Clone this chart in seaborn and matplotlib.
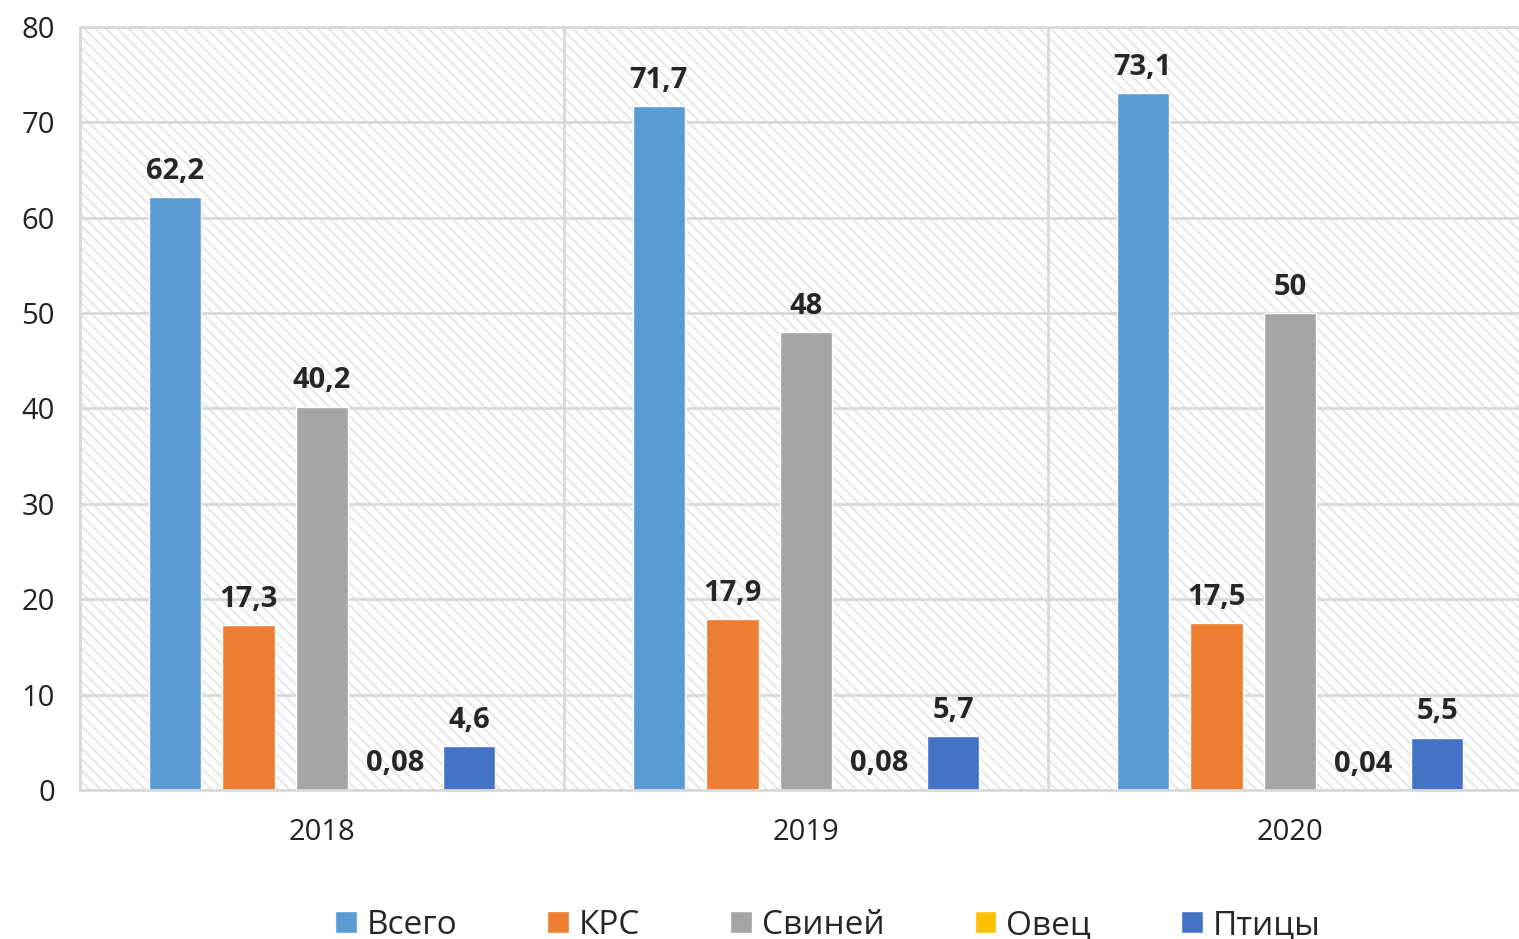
import matplotlib
matplotlib.use("Agg")
import matplotlib.pyplot as plt
from matplotlib.patches import Rectangle
import seaborn as sns
import pandas as pd

#----------DATA-----------------#
years      = ["2018", "2019", "2020"]
categories = ["Всего", "КРС", "Свиней", "Овец", "Птицы"]
vsego      = [62.2, 71.7, 73.1]
krs        = [17.3, 17.9, 17.5]
sviney     = [40.2, 48, 50]
ovec       = [0.08, 0.08, 0.04]
ptitsy     = [4.6, 5.7, 5.5]
colors     = ["#5B9BD5", "#ED7D31", "#A5A5A5", "#FFC000", "#4472C4"]

series = [vsego, krs, sviney, ovec, ptitsy]
rows = []
for cat, vals in zip(categories, series):
    for yr, v in zip(years, vals):
        rows.append({"year": yr, "cat": cat, "value": v})
df = pd.DataFrame(rows)

#----------STYLE----------------#
sns.set_style("white")
plt.rcParams["font.family"] = ["Open Sans", "DejaVu Sans"]
plt.rcParams["hatch.linewidth"] = 1.2
grid_c = "#d9d9d9"

fig = plt.figure(figsize=(15.19, 9.39), dpi=100)
# plot area runs slightly past the right edge of the figure, as in the source
ax = fig.add_axes([80 / 1519, 1 - 790 / 939, 1452 / 1519, (790 - 27) / 939])

# hatched plot background
ax.add_patch(Rectangle((0, 0), 1, 1, transform=ax.transAxes, facecolor="white",
                       edgecolor="#e3e3e3", hatch="\\\\\\", linewidth=0, zorder=0.1))

sns.barplot(data=df, x="year", y="value", hue="cat", hue_order=categories,
            order=years, palette=dict(zip(categories, colors)),
            width=0.76, gap=0.29, saturation=1, ax=ax, legend=True, zorder=2)

#----------LABELS---------------#
for cont, vals in zip(ax.containers, series):
    labels = [str(v).replace(".", ",") for v in vals]
    ax.bar_label(cont, labels=labels, padding=8, fontsize=21, fontweight="bold")

#----------AXES-----------------#
ax.set_ylim(0, 80)
ax.set_xlim(-0.5, 2.5)
ax.set_yticks(range(0, 81, 10))
ax.set_xlabel("")
ax.set_ylabel("")
ax.set_axisbelow(True)
ax.yaxis.grid(True, color=grid_c, linewidth=2)
for xv in [0.5, 1.5]:
    ax.axvline(xv, color=grid_c, linewidth=2, zorder=0.5)
for s in ax.spines.values():
    s.set_color(grid_c)
    s.set_linewidth(2)
ax.tick_params(axis="y", length=0, pad=18, labelsize=21, labelcolor="#222222")
ax.tick_params(axis="x", length=0, pad=20, labelsize=21, labelcolor="#222222")

#----------LEGEND---------------#
ax.get_legend().remove()
handles, labs = ax.get_legend_handles_labels()
fig.legend(handles, labs, loc="lower center", bbox_to_anchor=(0.545, -0.035),
           ncol=5, frameon=False, fontsize=24, handlelength=0.65, handleheight=0.65,
           handletextpad=0.3, columnspacing=2.7)

plt.savefig("out.png", dpi=100)
